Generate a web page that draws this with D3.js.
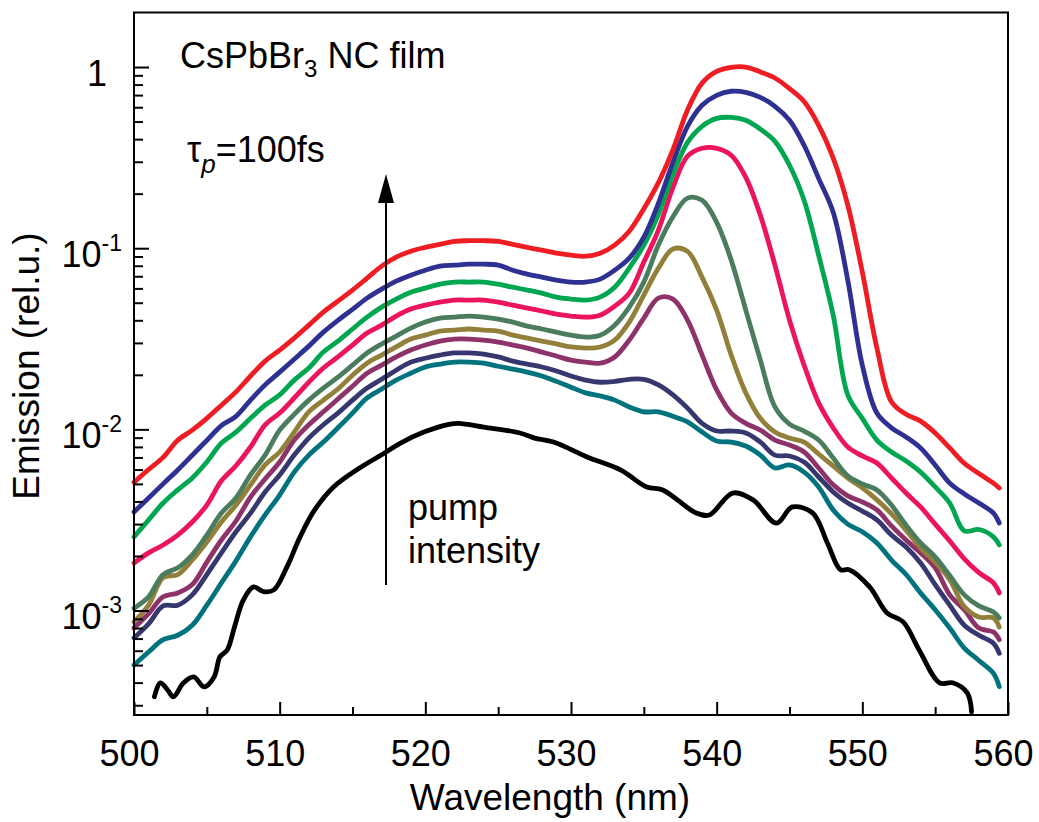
<!DOCTYPE html>
<html lang="en">
<head>
<meta charset="UTF-8">
<title>CsPbBr3 NC film emission</title>
<script src="https://d3js.org/d3.v7.min.js"></script>
<style>
  body { margin: 0; background: #fff; }
  svg text { font-family: 'Liberation Sans', Arial, Helvetica, sans-serif; fill: #000; }
</style>
</head>
<body>
<svg id="chart" width="1039" height="822"></svg>
<script>
// wavelength grid (nm) shared by the coloured spectra
var wavelength = [500, 501, 502, 503, 504, 505, 506, 507, 508, 509,
    510, 511, 512, 513, 514, 515, 516, 517, 518, 519,
    520, 521, 522, 523, 524, 525, 526, 527, 528, 529,
    530, 531, 532, 533, 534, 535, 536, 537, 538, 539,
    540, 541, 542, 543, 544, 545, 546, 547, 548, 549,
    550, 551, 552, 553, 554, 555, 556, 557, 558, 559, 559.4];

// emission (rel.u.), highest pump intensity first
var red = [5.1e-3, 6.0e-3, 7.0e-3, 8.7e-3, 9.9e-3, 1.15e-2, 1.36e-2, 1.61e-2, 1.97e-2, 2.38e-2,
    2.74e-2, 3.19e-2, 3.76e-2, 4.44e-2, 5.1e-2, 5.87e-2, 6.83e-2, 7.96e-2, 8.92e-2, 9.63e-2,
    0.101, 0.105, 0.109, 0.110, 0.110, 0.109, 0.105, 0.101, 0.0975, 0.0938,
    0.0915, 0.0903, 0.0938, 0.104, 0.124, 0.165, 0.230, 0.350, 0.580, 0.815,
    0.945, 0.995, 1.0, 0.94, 0.87, 0.76, 0.645, 0.477, 0.314, 0.173,
    0.0738, 0.0281, 0.0142, 0.0121, 0.0111, 9.55e-3, 7.9e-3, 6.5e-3, 5.7e-3, 5.05e-3, 4.75e-3];
var blue = [3.5e-3, 4.18e-3, 5.0e-3, 5.97e-3, 7.2e-3, 8.7e-3, 1.05e-2, 1.18e-2, 1.45e-2, 1.76e-2,
    2.07e-2, 2.44e-2, 2.88e-2, 3.44e-2, 4.0e-2, 4.6e-2, 5.3e-2, 5.94e-2, 6.58e-2, 7.1e-2,
    7.56e-2, 7.96e-2, 8.06e-2, 8.16e-2, 8.16e-2, 8.06e-2, 7.56e-2, 7.19e-2, 6.92e-2, 6.66e-2,
    6.5e-2, 6.5e-2, 6.75e-2, 7.56e-2, 8.81e-2, 0.115, 0.177, 0.298, 0.471, 0.615,
    0.698, 0.735, 0.725, 0.680, 0.607, 0.508, 0.370, 0.243, 0.158, 0.0666,
    0.0226, 0.0123, 0.0102, 9.07e-3, 7.89e-3, 6.36e-3, 5.05e-3, 4.4e-3, 3.92e-3, 3.45e-3, 3.04e-3];
var green = [2.55e-3, 3.16e-3, 3.92e-3, 4.63e-3, 5.39e-3, 6.6e-3, 8.4e-3, 9.66e-3, 1.15e-2, 1.36e-2,
    1.55e-2, 1.87e-2, 2.18e-2, 2.67e-2, 3.07e-2, 3.58e-2, 4.16e-2, 4.73e-2, 5.24e-2, 5.72e-2,
    6.02e-2, 6.33e-2, 6.5e-2, 6.5e-2, 6.5e-2, 6.33e-2, 6.09e-2, 5.87e-2, 5.65e-2, 5.37e-2,
    5.24e-2, 5.17e-2, 5.37e-2, 6.09e-2, 7.76e-2, 0.104, 0.154, 0.256, 0.384, 0.471,
    0.521, 0.527, 0.508, 0.454, 0.389, 0.287, 0.184, 0.0915, 0.0427, 0.0155,
    0.0115, 8.73e-3, 7.5e-3, 6.69e-3, 5.81e-3, 4.81e-3, 3.92e-3, 2.75e-3, 2.8e-3, 2.55e-3, 2.3e-3];
var pink = [1.83e-3, 2.08e-3, 2.3e-3, 2.61e-3, 3.08e-3, 3.82e-3, 5.2e-3, 6.3e-3, 7.99e-3, 1.06e-2,
    1.23e-2, 1.49e-2, 1.82e-2, 2.18e-2, 2.51e-2, 2.92e-2, 3.4e-2, 3.76e-2, 4.22e-2, 4.61e-2,
    4.85e-2, 5.04e-2, 5.17e-2, 5.17e-2, 5.17e-2, 5.04e-2, 4.85e-2, 4.67e-2, 4.5e-2, 4.33e-2,
    4.22e-2, 4.16e-2, 4.27e-2, 4.79e-2, 5.65e-2, 8.38e-2, 0.126, 0.217, 0.322, 0.356,
    0.356, 0.326, 0.246, 0.152, 0.0806, 0.0401, 0.0226, 0.014, 0.0102, 7.99e-3,
    7.13e-3, 6.52e-3, 5.39e-3, 4.45e-3, 3.73e-3, 3.0e-3, 2.42e-3, 1.93e-3, 1.62e-3, 1.42e-3, 1.25e-3];
var greyGreen = [1.03e-3, 1.19e-3, 1.58e-3, 1.72e-3, 2.03e-3, 2.61e-3, 3.45e-3, 4.18e-3, 5.6e-3, 7.21e-3,
    9.9e-3, 1.21e-2, 1.45e-2, 1.69e-2, 1.94e-2, 2.26e-2, 2.64e-2, 2.96e-2, 3.27e-2, 3.62e-2,
    3.91e-2, 4.11e-2, 4.16e-2, 4.22e-2, 4.16e-2, 4.06e-2, 3.91e-2, 3.71e-2, 3.58e-2, 3.44e-2,
    3.31e-2, 3.23e-2, 3.31e-2, 3.76e-2, 4.73e-2, 6.5e-2, 0.104, 0.149, 0.189, 0.184,
    0.139, 0.0859, 0.0455, 0.0241, 0.0133, 0.0107, 9.79e-3, 8.73e-3, 6.95e-3, 5.53e-3,
    5.0e-3, 4.63e-3, 3.82e-3, 2.96e-3, 2.36e-3, 1.98e-3, 1.56e-3, 1.22e-3, 1.06e-3, 9.8e-4, 9.1e-4];
var olive = [8.66e-4, 1.07e-3, 1.52e-3, 1.58e-3, 1.9e-3, 2.39e-3, 3.08e-3, 3.82e-3, 4.94e-3, 6.36e-3,
    7.5e-3, 9.66e-3, 1.25e-2, 1.45e-2, 1.67e-2, 1.99e-2, 2.32e-2, 2.57e-2, 2.85e-2, 3.15e-2,
    3.31e-2, 3.49e-2, 3.53e-2, 3.58e-2, 3.53e-2, 3.49e-2, 3.31e-2, 3.19e-2, 3.07e-2, 2.96e-2,
    2.85e-2, 2.81e-2, 2.85e-2, 3.11e-2, 3.91e-2, 5.51e-2, 7.76e-2, 9.9e-2, 9.6e-2, 6.9e-2,
    4.55e-2, 2.57e-2, 1.59e-2, 1.15e-2, 9.66e-3, 8.95e-3, 8.51e-3, 7.31e-3, 6.28e-3, 5.39e-3,
    4.75e-3, 4.08e-3, 3.42e-3, 2.78e-3, 2.21e-3, 1.85e-3, 1.48e-3, 1.05e-3, 9.2e-4, 9.1e-4, 8.1e-4];
var purple = [8.0e-4, 9.6e-4, 1.19e-3, 1.25e-3, 1.39e-3, 1.85e-3, 2.45e-3, 3.12e-3, 4.23e-3, 5.32e-3,
    6.6e-3, 8.73e-3, 1.06e-2, 1.25e-2, 1.47e-2, 1.73e-2, 2.04e-2, 2.26e-2, 2.51e-2, 2.74e-2,
    2.92e-2, 3.07e-2, 3.15e-2, 3.15e-2, 3.11e-2, 3.03e-2, 2.92e-2, 2.81e-2, 2.67e-2, 2.54e-2,
    2.41e-2, 2.35e-2, 2.32e-2, 2.51e-2, 3.11e-2, 4.11e-2, 5.3e-2, 5.24e-2, 4.01e-2, 2.57e-2,
    1.65e-2, 1.23e-2, 1.08e-2, 9.9e-3, 8.73e-3, 8.19e-3, 7.5e-3, 6.12e-3, 4.94e-3, 4.29e-3,
    3.97e-3, 3.59e-3, 2.93e-3, 2.45e-3, 2.08e-3, 1.72e-3, 1.22e-3, 1.01e-3, 8.0e-4, 7.6e-4, 6.9e-4];
var slate = [7.06e-4, 8.44e-4, 1.06e-3, 1.07e-3, 1.22e-3, 1.58e-3, 2.08e-3, 2.72e-3, 3.45e-3, 4.51e-3,
    5.6e-3, 7.21e-3, 8.95e-3, 1.06e-2, 1.23e-2, 1.45e-2, 1.69e-2, 1.89e-2, 2.12e-2, 2.35e-2,
    2.47e-2, 2.57e-2, 2.64e-2, 2.64e-2, 2.6e-2, 2.51e-2, 2.38e-2, 2.29e-2, 2.21e-2, 2.1e-2,
    1.97e-2, 1.87e-2, 1.82e-2, 1.84e-2, 1.89e-2, 1.89e-2, 1.76e-2, 1.55e-2, 1.31e-2, 1.08e-2,
    9.79e-3, 9.79e-3, 9.55e-3, 8.51e-3, 7.21e-3, 7.13e-3, 6.6e-3, 5.46e-3, 4.51e-3, 3.92e-3,
    3.54e-3, 3.16e-3, 2.61e-3, 2.24e-3, 1.83e-3, 1.39e-3, 1.07e-3, 8.3e-4, 7.3e-4, 6.6e-4, 5.8e-4];
var teal = [5.0e-4, 5.9e-4, 6.9e-4, 7.3e-4, 8.3e-4, 1.07e-3, 1.42e-3, 1.88e-3, 2.55e-3, 3.37e-3,
    4.34e-3, 5.81e-3, 7.21e-3, 8.51e-3, 1.02e-2, 1.23e-2, 1.49e-2, 1.67e-2, 1.87e-2, 2.04e-2,
    2.21e-2, 2.29e-2, 2.35e-2, 2.35e-2, 2.32e-2, 2.23e-2, 2.15e-2, 2.07e-2, 1.97e-2, 1.84e-2,
    1.71e-2, 1.59e-2, 1.53e-2, 1.45e-2, 1.33e-2, 1.25e-2, 1.25e-2, 1.18e-2, 1.1e-2, 9.66e-3,
    8.62e-3, 8.51e-3, 8.09e-3, 7.21e-3, 6.12e-3, 6.36e-3, 5.81e-3, 4.81e-3, 3.59e-3, 3.0e-3,
    2.72e-3, 2.36e-3, 1.9e-3, 1.58e-3, 1.25e-3, 1.01e-3, 8.0e-4, 6.2e-4, 5.3e-4, 4.5e-4, 3.8e-4];

// lowest pump intensity (black) has its own wavelength samples
var blackWavelength = [501.4, 501.8, 502.3, 502.7, 503.4, 504.1, 504.8, 505.5, 505.9, 506.4,
    506.9, 507.5, 508.2, 508.9, 509.6, 510.5, 511.4, 512.4, 513.7, 515.6,
    517.2, 518.3, 519.9, 521.7, 522.3, 524, 526.5, 527.5, 528.8, 531.1,
    533.4, 535.2, 536.3, 538.6, 539.5, 541.1, 542.5, 544.1, 545.2, 546.6,
    547.6, 548.5, 549.1, 550.5, 551.7, 552.8, 553.9, 555.3, 556.2, 557.2, 557.5];
var black = [3.34e-4, 3.99e-4, 3.65e-4, 3.34e-4, 3.99e-4, 4.3e-4, 3.79e-4, 4.3e-4, 5.55e-4, 6.06e-4,
    8.12e-4, 1.14e-3, 1.35e-3, 1.27e-3, 1.3e-3, 1.74e-3, 2.55e-3, 3.59e-3, 4.81e-3, 6.2e-3,
    7.4e-3, 8.4e-3, 9.66e-3, 1.07e-2, 1.08e-2, 1.03e-2, 9.55e-3, 8.95e-3, 8.51e-3, 7.04e-3,
    5.97e-3, 4.81e-3, 4.63e-3, 3.45e-3, 3.37e-3, 4.45e-3, 4.08e-3, 3.04e-3, 3.73e-3, 3.45e-3,
    2.36e-3, 1.68e-3, 1.68e-3, 1.35e-3, 9.7e-4, 8.66e-4, 6.06e-4, 3.99e-4, 3.99e-4, 3.51e-4, 2.76e-4];

var seriesNames = ['black', 'teal', 'slate', 'purple', 'olive', 'greyGreen', 'pink', 'green', 'blue', 'red'];
var seriesColors = ['#000000', '#00737f', '#37376f', '#8e3369', '#917f3a', '#4a7c5d', '#ec145a', '#00a650', '#2e3192', '#ee1d23'];

var xMajor = [500, 510, 520, 530, 540, 550, 560];
var xMinor = [505, 515, 525, 535, 545, 555];
var yMajor = [1e-3, 1e-2, 1e-1, 1];
var yLabelExp = ['-3', '-2', '-1', ''];

var svg = d3.select('#chart');
var plotLeft = 134, plotRight = 1008, plotTop = 12.5, plotBottom = 715;

var x = d3.scaleLinear().domain([500, 560]).range([plotLeft, plotRight]);
var y = d3.scaleLog().domain([2.65e-4, 2]).range([plotBottom, plotTop]);

// curves
var table = {
    black: { wl: blackWavelength, v: black },
    teal: { wl: wavelength, v: teal },
    slate: { wl: wavelength, v: slate },
    purple: { wl: wavelength, v: purple },
    olive: { wl: wavelength, v: olive },
    greyGreen: { wl: wavelength, v: greyGreen },
    pink: { wl: wavelength, v: pink },
    green: { wl: wavelength, v: green },
    blue: { wl: wavelength, v: blue },
    red: { wl: wavelength, v: red }
};

var line = d3.line()
    .x(function (d) { return x(d[0]); })
    .y(function (d) { return y(d[1]); })
    .curve(d3.curveCatmullRom.alpha(0.5));

var plot = svg.append('g');
seriesNames.forEach(function (name, i) {
    var s = table[name];
    var pts = s.wl.map(function (w, j) { return [w, s.v[j]]; });
    plot.append('path')
        .datum(pts)
        .attr('d', line)
        .attr('fill', 'none')
        .attr('stroke', seriesColors[i])
        .attr('stroke-width', 4.8)
        .attr('stroke-linejoin', 'round')
        .attr('stroke-linecap', 'round');
});

// x axis, ticks pointing inward
var xAxisG = svg.append('g').attr('transform', 'translate(0,' + plotBottom + ')');
xAxisG.call(d3.axisBottom(x).tickValues(xMajor).tickSize(-13).tickPadding(25).tickFormat(d3.format('d')));
xAxisG.append('g').call(d3.axisBottom(x).tickValues(xMinor).tickSize(-8).tickFormat(''));
xAxisG.selectAll('.domain').remove();
xAxisG.selectAll('line').attr('stroke', '#000').attr('stroke-width', 2);
xAxisG.selectAll('text')
    .attr('font-size', 36)
    .attr('dx', -5)
    .style('font-family', "'Liberation Sans', Arial, sans-serif");

// y axis (log), ticks pointing inward
var yMinor = y.ticks().filter(function (v) {
    var m = v / Math.pow(10, Math.floor(Math.log10(v) + 1e-9));
    return Math.abs(m - 1) > 1e-6 && v < 1.95;
});
var yAxisG = svg.append('g').attr('transform', 'translate(' + plotLeft + ',0)');
yAxisG.call(d3.axisLeft(y).tickValues(yMajor).tickSize(-15).tickPadding(12));
yAxisG.append('g').call(d3.axisLeft(y).tickValues(yMinor).tickSize(-9).tickFormat(''));
yAxisG.selectAll('.domain').remove();
yAxisG.selectAll('line').attr('stroke', '#000').attr('stroke-width', 2);
yAxisG.selectAll('.tick text').each(function (d) {
    var t = d3.select(this);
    var i = yMajor.indexOf(d);
    if (i < 0) return;
    t.text('').attr('font-size', 36).attr('dy', 18)
        .style('font-family', "'Liberation Sans', Arial, sans-serif");
    if (yLabelExp[i] === '') {
        t.attr('x', -27).append('tspan').text('1');
    } else {
        t.append('tspan').text('10');
        t.append('tspan').attr('font-size', 23).attr('dy', -16).text(yLabelExp[i]);
    }
});

// frame
svg.append('rect')
    .attr('x', plotLeft).attr('y', plotTop)
    .attr('width', plotRight - plotLeft).attr('height', plotBottom - plotTop)
    .attr('fill', 'none').attr('stroke', '#000').attr('stroke-width', 2);

// axis titles
svg.append('text')
    .attr('x', 550).attr('y', 810)
    .attr('text-anchor', 'middle').attr('font-size', 37)
    .text('Wavelength (nm)');
svg.append('text')
    .attr('transform', 'translate(39,366) rotate(-90)')
    .attr('text-anchor', 'middle').attr('font-size', 37)
    .text('Emission (rel.u.)');

// annotations
var title = svg.append('text').attr('x', 180).attr('y', 68).attr('font-size', 36);
title.append('tspan').text('CsPbBr');
title.append('tspan').attr('font-size', 24).attr('dy', 9).text('3');
title.append('tspan').attr('dy', -9).text('\u00a0NC film');

var tau = svg.append('text').attr('x', 187).attr('y', 162).attr('font-size', 36);
tau.append('tspan').text('\u03c4');
tau.append('tspan').attr('font-size', 26).attr('font-style', 'italic').attr('dy', 11).text('p');
tau.append('tspan').attr('dy', -11).text('=100fs');

svg.append('line')
    .attr('x1', 386).attr('y1', 585).attr('x2', 386).attr('y2', 198)
    .attr('stroke', '#000').attr('stroke-width', 2);
svg.append('path')
    .attr('d', 'M386,174 L378,203 L394,203 Z')
    .attr('fill', '#000');

svg.append('text').attr('x', 408).attr('y', 520).attr('font-size', 36).text('pump');
svg.append('text').attr('x', 408).attr('y', 563).attr('font-size', 36).text('intensity');
</script>
</body>
</html>
